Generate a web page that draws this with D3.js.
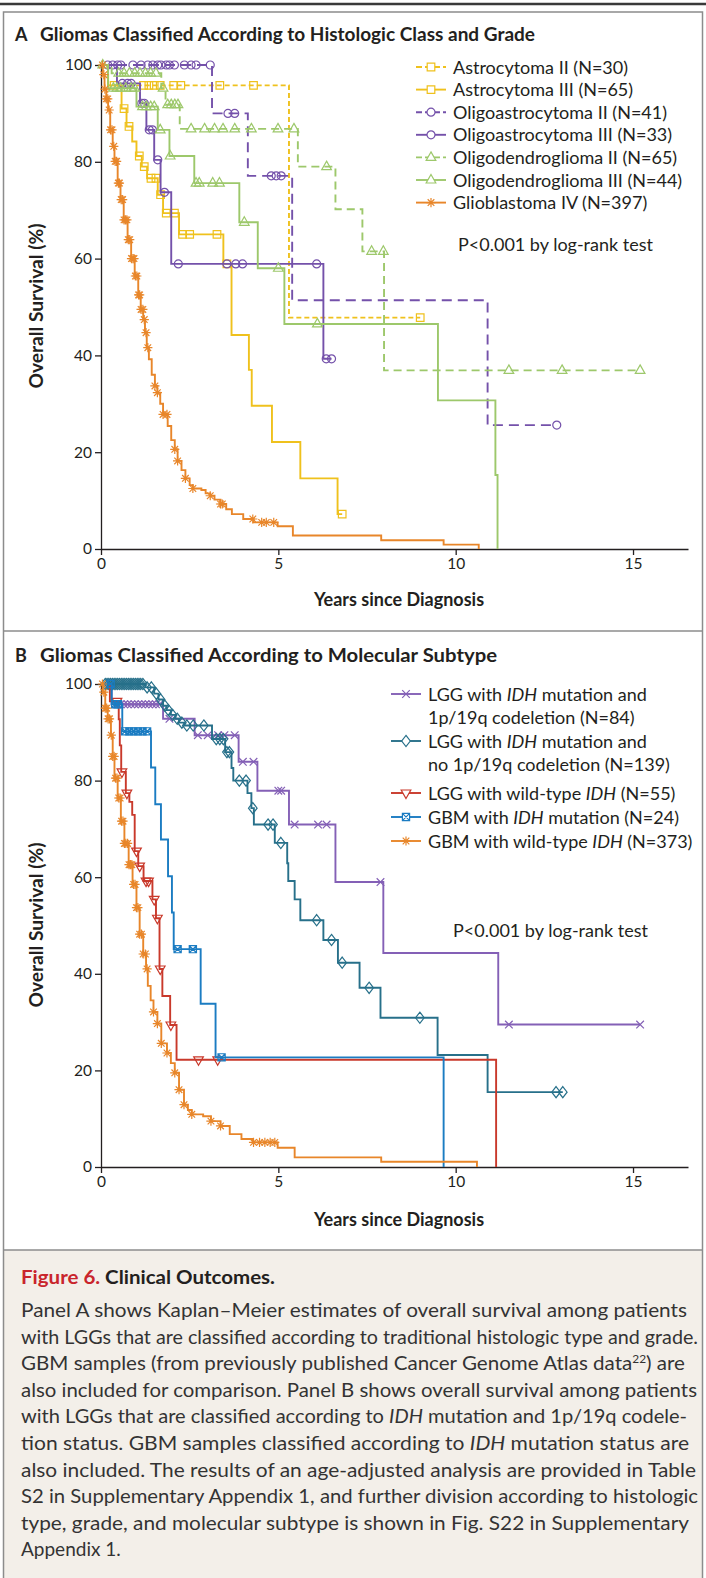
<!DOCTYPE html>
<html>
<head>
<meta charset="utf-8">
<script src="https://cdn.jsdelivr.net/npm/d3@7"></script>
<style>
  body { margin: 0; background: #fff; }
  svg text { font-family: Lato, "Noto Sans", sans-serif; fill: #231f20; }
</style>
</head>
<body>
<svg id="fig" width="706" height="1578"></svg>
<script>
// Axis ticks
var yearTicks = [0, 5, 10, 15];
var survTicks = [0, 20, 40, 60, 80, 100];

// ---- Panel A : histologic class and grade ----
var astro2T = [0, 0.2, 5.3, 9.0];
var astro2S = [100, 95.8, 47.8, 47.8];
var astro2C = [0.37, 1.2, 1.35, 1.5, 1.67, 2.05, 2.25, 3.35, 4.3, 9.0];

var astro3T = [0, 0.2, 0.58, 0.72, 0.88, 1.0, 1.15, 1.3, 1.6, 1.75, 2.2, 3.45, 3.68, 4.17, 4.25, 4.82, 5.62, 6.67, 6.8];
var astro3S = [100, 95.8, 91.0, 87.3, 84.2, 81.2, 79.0, 76.6, 73.2, 69.4, 65.0, 58.9, 44.2, 37.0, 29.6, 22.1, 14.6, 7.2, 7.2];
var astro3C = [0.65, 0.79, 1.08, 1.22, 1.41, 1.55, 1.68, 1.84, 2.07, 2.3, 2.5, 3.27, 3.55, 6.8];

var oa2T = [0, 3.13, 4.14, 5.39, 10.9, 12.85];
var oa2S = [100, 90.0, 77.1, 51.4, 25.6, 25.6];
var oa2C = [0.19, 0.33, 0.47, 0.56, 0.9, 1.13, 1.32, 1.46, 1.6, 1.69, 1.84, 1.93, 2.07, 2.35, 2.54, 2.68, 3.08, 3.58, 3.77, 4.8, 4.94, 5.08, 12.85];

var oa3T = [0, 0.45, 1.1, 1.28, 1.5, 1.68, 1.98, 6.27, 6.5];
var oa3S = [100, 96.2, 92.1, 86.6, 80.4, 73.7, 58.9, 39.3, 39.3];
var oa3C = [0.6, 0.75, 0.85, 1.15, 1.22, 1.36, 1.45, 1.6, 1.79, 2.18, 3.55, 3.8, 3.99, 6.08, 6.35, 6.5];

var od2T = [0, 0.3, 1.7, 1.82, 2.22, 5.55, 6.61, 7.37, 7.98, 15.2];
var od2S = [100, 98.3, 95.2, 91.8, 86.8, 79.0, 70.2, 61.5, 36.9, 36.9];
var od2C = [0.05, 0.5, 0.65, 0.8, 0.95, 1.1, 1.25, 1.4, 1.55, 1.75, 1.88, 1.98, 2.08, 2.17, 2.54, 2.92, 3.2, 3.44, 3.77, 4.24, 4.99, 5.44, 6.36, 7.63, 7.96, 11.5, 13.0, 15.2];

var od3T = [0, 0.2, 1.0, 1.6, 1.93, 2.63, 3.9, 4.42, 5.17, 9.5, 11.12, 11.18];
var od3S = [100, 95.2, 91.4, 86.6, 81.2, 75.6, 67.5, 58.0, 46.5, 30.7, 15.3, 0];
var od3C = [0.35, 0.45, 0.55, 0.7, 0.85, 0.95, 1.17, 1.28, 1.4, 1.5, 1.67, 1.95, 2.68, 2.77, 3.15, 3.34, 4.04, 5.0, 6.1];

var gbmAT = [0, 0.05, 0.1, 0.15, 0.2, 0.26, 0.33, 0.38, 0.47, 0.55, 0.64, 0.75, 0.85, 0.95, 1.05, 1.12, 1.19, 1.24, 1.29, 1.35, 1.43, 1.52, 1.59, 1.67, 1.75, 1.88, 1.98, 2.08, 2.16, 2.27, 2.38, 2.5, 2.59, 2.83, 2.95, 3.08, 3.2, 3.37, 3.53, 3.69, 4.01, 4.3, 4.98, 5.41, 7.9, 9.66, 10.65];
var gbmAS = [100, 98, 95, 93, 90.7, 86.6, 83.2, 80.1, 75.6, 72.2, 68.0, 63.9, 60.0, 56.4, 52.5, 49.5, 47.4, 44.7, 41.6, 39.2, 36.0, 33.7, 32.3, 30.0, 27.8, 25.4, 22.5, 20.6, 18.2, 16.3, 14.6, 13.2, 12.5, 12.2, 11.5, 11.0, 10.2, 9.3, 8.2, 7.2, 6.2, 5.5, 4.7, 2.8, 1.8, 0.9, 0];
var gbmAC = [0.04, 0.08, 0.11, 0.15, 0.19, 0.23, 0.27, 0.31, 0.36, 0.4, 0.44, 0.49, 0.52, 0.57, 0.61, 0.65, 0.69, 0.73, 0.77, 0.81, 0.86, 0.9, 0.93, 0.97, 1.01, 1.06, 1.09, 1.13, 1.18, 1.22, 1.27, 1.32, 1.52, 1.59, 1.75, 1.86, 2.08, 2.16, 2.38, 2.59, 3.08, 3.37, 3.42, 4.28, 4.53, 4.66, 4.87];

// ---- Panel B : molecular subtype ----
var codelT = [0, 0.3, 1.75, 2.64, 3.88, 4.41, 5.3, 6.61, 7.96, 11.2, 15.2];
var codelS = [100, 95.8, 92.8, 89.4, 83.9, 77.9, 70.9, 59.0, 44.3, 29.5, 29.5];
var codelC = [0.45, 0.55, 0.65, 0.75, 0.85, 0.95, 1.05, 1.15, 1.25, 1.35, 1.45, 1.55, 1.65, 1.93, 2.73, 3.01, 3.3, 3.48, 3.77, 4.0, 4.3, 5.0, 5.08, 5.46, 6.12, 6.36, 7.88, 11.5, 15.2];

var nocodelT = [0, 1.25, 1.5, 1.62, 1.75, 1.85, 1.97, 2.1, 2.2, 2.35, 3.13, 3.5, 3.68, 3.73, 4.13, 4.24, 4.31, 4.9, 5.25, 5.28, 5.46, 5.62, 6.27, 6.68, 7.29, 7.88, 9.49, 10.9, 13.02];
var nocodelS = [100, 99.3, 98.0, 96.8, 95.5, 94.6, 93.6, 92.8, 92.0, 91.4, 88.6, 85.9, 82.6, 80.0, 77.4, 74.3, 70.9, 67.1, 62.9, 59.2, 55.4, 51.1, 47.0, 42.3, 37.1, 30.9, 23.2, 15.5, 15.5];
var nocodelC = [0.12, 0.17, 0.22, 0.27, 0.32, 0.37, 0.42, 0.47, 0.52, 0.57, 0.62, 0.67, 0.72, 0.77, 0.82, 0.87, 0.92, 0.97, 1.02, 1.07, 1.12, 1.18, 1.3, 1.42, 1.56, 1.68, 1.8, 1.9, 2.02, 2.15, 2.28, 2.42, 2.6, 2.9, 3.25, 3.35, 3.45, 3.55, 3.62, 3.9, 4.09, 4.28, 4.71, 4.85, 5.07, 6.08, 6.5, 6.8, 7.56, 8.99, 12.83, 13.02];

var wtT = [0, 0.25, 0.5, 0.53, 0.57, 0.7, 0.8, 0.88, 0.95, 1.05, 1.2, 1.45, 1.55, 1.65, 1.73, 1.95, 2.13, 11.14];
var wtS = [100, 96.4, 92.7, 87.3, 81.8, 77.4, 75.6, 72.9, 65.4, 62.3, 59.2, 55.4, 51.5, 41.0, 35.4, 29.4, 22.2, 0];
var wtC = [0.45, 0.59, 0.73, 1.0, 1.09, 1.27, 1.34, 1.5, 1.59, 1.67, 1.97, 2.75, 3.29];

var gbmMutT = [0, 0.3, 0.6, 1.41, 1.53, 1.69, 1.89, 2.0, 2.05, 2.81, 3.23, 9.66];
var gbmMutS = [100, 95.8, 90.2, 82.7, 75.1, 67.8, 60.2, 52.7, 45.1, 33.8, 22.7, 0];
var gbmMutC = [0.27, 0.4, 0.48, 0.68, 0.8, 0.92, 1.05, 1.17, 1.3, 2.16, 2.59, 3.4];

var gbmWtT = [0, 0.05, 0.12, 0.19, 0.28, 0.33, 0.38, 0.47, 0.56, 0.66, 0.78, 0.89, 1.0, 1.09, 1.19, 1.27, 1.32, 1.4, 1.48, 1.59, 1.7, 1.86, 1.97, 2.08, 2.2, 2.34, 2.45, 2.56, 2.88, 3.1, 3.37, 3.63, 3.96, 4.28, 4.98, 5.46, 7.9, 10.6];
var gbmWtS = [100, 98.3, 95, 92.8, 89.4, 85, 80.5, 76.4, 71.6, 67.0, 62.6, 58.5, 53.7, 48.2, 44.1, 41.0, 37.5, 34.5, 32.1, 29.7, 25.6, 23.6, 21.5, 19.5, 16.0, 12.9, 11.8, 10.9, 10.5, 9.5, 8.5, 6.8, 5.8, 5.1, 4.0, 2.0, 1.1, 0];
var gbmWtC = [0.04, 0.08, 0.12, 0.16, 0.2, 0.24, 0.29, 0.33, 0.37, 0.41, 0.45, 0.5, 0.54, 0.58, 0.62, 0.66, 0.7, 0.75, 0.79, 0.83, 0.87, 0.92, 0.96, 1.0, 1.04, 1.09, 1.14, 1.19, 1.25, 1.3, 1.48, 1.59, 1.7, 1.86, 2.08, 2.2, 2.34, 2.56, 3.1, 3.37, 4.3, 4.47, 4.62, 4.77, 4.9];

// Couleurs
var cYellow = "#efc11d", cPurpleA = "#7451aa", cGreen = "#9dc86b", cOrange = "#e8862a";
var cPurpleB = "#8460b6", cTeal = "#27708a", cRed = "#c9392b", cBlue = "#1b7cc2";

var svg = d3.select("#fig");
var x = d3.scaleLinear().domain([0, 16.55]).range([101, 688]);
var yA = d3.scaleLinear().domain([0, 100]).range([549, 65]);
var yB = d3.scaleLinear().domain([0, 100]).range([1167, 684]);

// Cadre
svg.append("line").attr("x1", 0).attr("x2", 706).attr("y1", 4).attr("y2", 4)
  .attr("stroke", "#3a3a3a").attr("stroke-width", 2.5);
svg.append("rect").attr("x", 3.5).attr("y", 1250).attr("width", 699).attr("height", 330)
  .attr("fill", "#f3efe9");
svg.append("rect").attr("x", 3.5).attr("y", 12).attr("width", 699).attr("height", 1570)
  .attr("fill", "none").attr("stroke", "#8c8c8c").attr("stroke-width", 1.5);
[631, 1250].forEach(function(yy) {
  svg.append("line").attr("x1", 3.5).attr("x2", 702.5).attr("y1", yy).attr("y2", yy)
    .attr("stroke", "#8c8c8c").attr("stroke-width", 1.5);
});

// Marqueurs de censure
function marker(type, r) {
  switch (type) {
    case "square": return "M" + (-r) + "," + (-r) + "h" + 2 * r + "v" + 2 * r + "h" + (-2 * r) + "Z";
    case "circle": return "M" + (-r) + ",0a" + r + "," + r + " 0 1,0 " + 2 * r + ",0a" + r + "," + r + " 0 1,0 " + (-2 * r) + ",0";
    case "tri": return "M0," + (-r * 1.2) + "L" + r * 1.05 + "," + r * 0.65 + "L" + (-r * 1.05) + "," + r * 0.65 + "Z";
    case "tridown": return "M0," + r * 1.2 + "L" + r * 1.05 + "," + (-r * 0.65) + "L" + (-r * 1.05) + "," + (-r * 0.65) + "Z";
    case "diamond": return "M0," + (-r * 1.3) + "L" + r + ",0L0," + r * 1.3 + "L" + (-r) + ",0Z";
    case "x": return "M" + (-r) + "," + (-r) + "L" + r + "," + r + "M" + r + "," + (-r) + "L" + (-r) + "," + r;
    case "sqx": return "M" + (-r) + "," + (-r) + "h" + 2 * r + "v" + 2 * r + "h" + (-2 * r) + "Z" +
      "M" + (-r) + "," + (-r) + "L" + r + "," + r + "M" + r + "," + (-r) + "L" + (-r) + "," + r;
    case "star":
      var d = r * 0.72;
      return "M" + (-r) + ",0H" + r + "M0," + (-r) + "V" + r +
        "M" + (-d) + "," + (-d) + "L" + d + "," + d + "M" + d + "," + (-d) + "L" + (-d) + "," + d;
  }
}

function survAt(times, surv, t) {
  var i = d3.bisectRight(times, t) - 1;
  return surv[Math.max(i, 0)];
}

function drawCurve(y, s) {
  var pts = s.t.map(function(t, i) { return [t, s.s[i]]; });
  var line = d3.line().x(function(d) { return x(d[0]); }).y(function(d) { return y(d[1]); })
    .curve(d3.curveStepAfter);
  svg.append("path").attr("d", line(pts)).attr("fill", "none")
    .attr("stroke", s.color).attr("stroke-width", 1.9)
    .attr("stroke-dasharray", s.dash || null);
  svg.append("g").selectAll("path").data(s.c).enter().append("path")
    .attr("transform", function(t) { return "translate(" + x(t) + "," + y(survAt(s.t, s.s, t)) + ")"; })
    .attr("d", marker(s.mark, s.r)).attr("fill", "none")
    .attr("stroke", s.color).attr("stroke-width", 1.2);
}

function drawAxes(y, xTitleY, yTitleY) {
  var gx = svg.append("g").attr("transform", "translate(0," + y(0) + ")")
    .call(d3.axisBottom(x).tickValues(yearTicks).tickSize(6).tickSizeOuter(0));
  var gy = svg.append("g").attr("transform", "translate(" + x(0) + ",0)")
    .call(d3.axisLeft(y).tickValues(survTicks).tickSize(6).tickSizeOuter(0));
  [gx, gy].forEach(function(g) {
    g.attr("font-family", null).attr("font-size", null);
    g.selectAll("path, line").attr("stroke", "#231f20").attr("stroke-width", 1.3);
    g.selectAll("text").style("font-size", "15.5px").attr("fill", "#231f20");
  });
  svg.append("text").attr("x", 399).attr("y", xTitleY).attr("text-anchor", "middle")
    .style("font-size", "18px").style("font-weight", "bold").text("Years since Diagnosis");
  svg.append("text").attr("transform", "translate(43," + yTitleY + ") rotate(-90)")
    .attr("text-anchor", "middle").style("font-size", "18px").style("font-weight", "bold")
    .attr("textLength", 165).attr("lengthAdjust", "spacingAndGlyphs")
    .text("Overall Survival (%)");
}

function panelTitle(letter, label, yy, len) {
  svg.append("text").attr("x", 15).attr("y", yy).style("font-size", "18px")
    .style("font-weight", "bold").text(letter);
  svg.append("text").attr("x", 40).attr("y", yy).style("font-size", "18px")
    .style("font-weight", "bold").attr("textLength", len).attr("lengthAdjust", "spacingAndGlyphs")
    .text(label);
}

// texte avec morceaux en italique
function richText(sel, parts) {
  parts.forEach(function(p) {
    var ts = sel.append("tspan").text(p[0]);
    if (p[1] === "i") ts.style("font-style", "italic");
    if (p[1] === "sup") ts.style("font-size", "11px").attr("dy", -7);
    if (p[1] === "down") ts.attr("dy", 7);
  });
}

function legendRow(s, x1, x2, yy, lines) {
  svg.append("line").attr("x1", x1).attr("x2", x2).attr("y1", yy).attr("y2", yy)
    .attr("stroke", s.color).attr("stroke-width", 1.9).attr("stroke-dasharray", s.dash ? "6,3" : null);
  svg.append("path").attr("transform", "translate(" + (x1 + x2) / 2 + "," + yy + ")")
    .attr("d", marker(s.mark, s.r)).attr("fill", "#fff").attr("stroke", s.color).attr("stroke-width", 1.2);
  lines.forEach(function(parts, i) {
    var t = svg.append("text").attr("x", x2 + 7).attr("y", yy + 6.5 + i * 23.5).style("font-size", "18px");
    richText(t, parts);
  });
}

// ---- Panel A ----
var seriesA = [
  { t: astro2T, s: astro2S, c: astro2C, color: cYellow, dash: "5,3", mark: "square", r: 3.8, label: "Astrocytoma II (N=30)" },
  { t: astro3T, s: astro3S, c: astro3C, color: cYellow, mark: "square", r: 3.8, label: "Astrocytoma III (N=65)" },
  { t: oa2T, s: oa2S, c: oa2C, color: cPurpleA, dash: "10,6", mark: "circle", r: 4, label: "Oligoastrocytoma II (N=41)" },
  { t: oa3T, s: oa3S, c: oa3C, color: cPurpleA, mark: "circle", r: 4, label: "Oligoastrocytoma III (N=33)" },
  { t: od2T, s: od2S, c: od2C, color: cGreen, dash: "8,5", mark: "tri", r: 4.6, label: "Oligodendroglioma II (N=65)" },
  { t: od3T, s: od3S, c: od3C, color: cGreen, mark: "tri", r: 4.6, label: "Oligodendroglioma III (N=44)" },
  { t: gbmAT, s: gbmAS, c: gbmAC, color: cOrange, mark: "star", r: 4.6, label: "Glioblastoma IV (N=397)" }
];

panelTitle("A", "Gliomas Classified According to Histologic Class and Grade", 41, 495);
drawAxes(yA, 606, 306);
seriesA.forEach(function(s) { drawCurve(yA, s); });
seriesA.forEach(function(s, i) { legendRow(s, 416, 446, 67 + i * 22.6, [[[s.label]]]); });
svg.append("text").attr("x", 458).attr("y", 251).style("font-size", "18px").text("P<0.001 by log-rank test");

// ---- Panel B ----
var seriesB = [
  { t: codelT, s: codelS, c: codelC, color: cPurpleB, mark: "x", r: 3.8,
    lines: [[["LGG with "], ["IDH", "i"], [" mutation and"]], [["1p/19q codeletion (N=84)"]]] },
  { t: nocodelT, s: nocodelS, c: nocodelC, color: cTeal, mark: "diamond", r: 4.3,
    lines: [[["LGG with "], ["IDH", "i"], [" mutation and"]], [["no 1p/19q codeletion (N=139)"]]] },
  { t: wtT, s: wtS, c: wtC, color: cRed, mark: "tridown", r: 4.6,
    lines: [[["LGG with wild-type "], ["IDH", "i"], [" (N=55)"]]] },
  { t: gbmMutT, s: gbmMutS, c: gbmMutC, color: cBlue, mark: "sqx", r: 3.6,
    lines: [[["GBM with "], ["IDH", "i"], [" mutation (N=24)"]]] },
  { t: gbmWtT, s: gbmWtS, c: gbmWtC, color: cOrange, mark: "star", r: 4.6,
    lines: [[["GBM with wild-type "], ["IDH", "i"], [" (N=373)"]]] }
];
var legendBY = [694, 741, 793, 817, 841];

panelTitle("B", "Gliomas Classified According to Molecular Subtype", 662, 457);
drawAxes(yB, 1226, 925);
seriesB.forEach(function(s) { drawCurve(yB, s); });
seriesB.forEach(function(s, i) { legendRow(s, 391, 421, legendBY[i], s.lines); });
svg.append("text").attr("x", 453).attr("y", 937).style("font-size", "18px").text("P<0.001 by log-rank test");

// ---- Légende de la figure ----
var capTitle = svg.append("text").attr("x", 21).attr("y", 1284).style("font-size", "19px")
  .style("font-weight", "bold").attr("textLength", 254).attr("lengthAdjust", "spacingAndGlyphs");
capTitle.append("tspan").style("fill", "#c9252c").text("Figure 6.");
capTitle.append("tspan").text(" Clinical Outcomes.");

var captionLines = [
  [[["Panel A shows Kaplan\u2013Meier estimates of overall survival among patients"]], 687],
  [[["with LGGs that are classified according to traditional histologic type and grade."]], 698],
  [[["GBM samples (from previously published Cancer Genome Atlas data"], ["22", "sup"], [") are", "down"]], 685],
  [[["also included for comparison. Panel B shows overall survival among patients"]], 697],
  [[["with LGGs that are classified according to "], ["IDH", "i"], [" mutation and 1p/19q codele-"]], 687],
  [[["tion status. GBM samples classified according to "], ["IDH", "i"], [" mutation status are"]], 689],
  [[["also included. The results of an age-adjusted analysis are provided in Table"]], 696],
  [[["S2 in Supplementary Appendix 1, and further division according to histologic"]], 698],
  [[["type, grade, and molecular subtype is shown in Fig. S22 in Supplementary"]], 689],
  [[["Appendix 1."]], 0]
];
captionLines.forEach(function(l, i) {
  var t = svg.append("text").attr("x", 21).attr("y", 1317 + i * 26.6).style("font-size", "19px")
    .style("fill", "#333");
  if (l[1]) t.attr("textLength", l[1] - 21).attr("lengthAdjust", "spacingAndGlyphs");
  richText(t, l[0]);
});
</script>
</body>
</html>
